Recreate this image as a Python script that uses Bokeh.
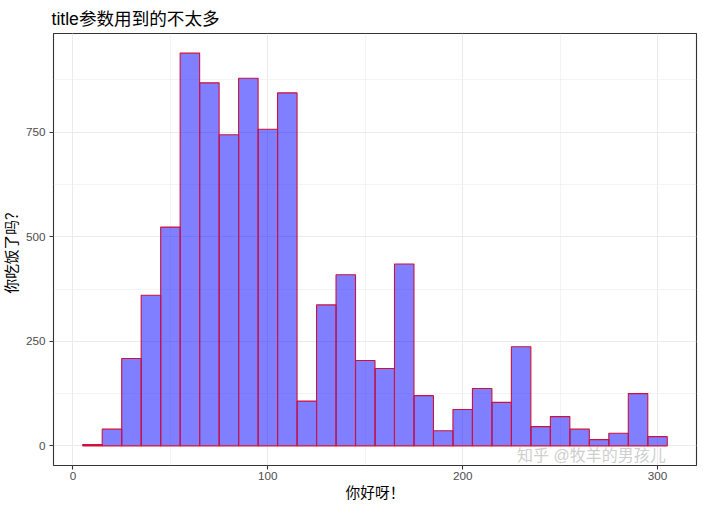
from bokeh.plotting import figure
from bokeh.models import FixedTicker, Label, Range1d
from bokeh.embed import file_html
from bokeh.resources import INLINE

# ---- data ----
bin_left = [5, 15, 25, 35, 45, 55, 65, 75, 85, 95, 105, 115, 125, 135, 145,
            155, 165, 175, 185, 195, 205, 215, 225, 235, 245, 255, 265, 275, 285, 295]
bin_right = [15, 25, 35, 45, 55, 65, 75, 85, 95, 105, 115, 125, 135, 145, 155,
             165, 175, 185, 195, 205, 215, 225, 235, 245, 255, 265, 275, 285, 295, 305]
counts = [3, 40, 209, 360, 523, 939, 868, 744, 879, 757, 844, 107, 337, 409, 204,
          185, 435, 120, 36, 87, 137, 104, 237, 46, 70, 40, 15, 30, 125, 22]
x_major = [0, 100, 200, 300]
x_minor = [50, 150, 250]
y_major = [0, 250, 500, 750]
y_minor = [125, 375, 625, 875]
title_text = "title参数用到的不太多"
x_label = "你好呀！"
y_label = "你吃饭了吗？"
watermark = "知乎 @牧羊的男孩儿"

LATIN_CJK = "Liberation Sans, Noto Sans CJK SC"

xmin, xmax = min(bin_left), max(bin_right)
xpad = (xmax - xmin) * 0.05
ymax = max(counts)
ypad = ymax * 0.05

p = figure(width=700, height=510, output_backend="svg", toolbar_location=None,
           x_range=Range1d(xmin - xpad, xmax + xpad),
           y_range=Range1d(-ypad, ymax + ypad),
           min_border_left=53, min_border_right=4, min_border_top=33,
           min_border_bottom=45)

p.quad(left=bin_left, right=bin_right, bottom=0, top=counts,
       fill_color="blue", fill_alpha=0.5, line_color="#D0103A", line_width=1.1)

# title
p.title.text = title_text
p.title.text_font = LATIN_CJK
p.title.text_font_size = "17.6px"
p.title.text_font_style = "normal"
p.title.text_color = "black"
p.title.offset = -2
p.title.standoff = 10

# panel border, background
p.outline_line_color = "#333333"
p.outline_line_width = 1.1
p.background_fill_color = "white"
p.border_fill_color = "white"

# ticks
p.xaxis.ticker = FixedTicker(ticks=x_major, minor_ticks=x_minor)
p.yaxis.ticker = FixedTicker(ticks=y_major, minor_ticks=y_minor)

for ax in (p.xaxis[0], p.yaxis[0]):
    ax.axis_line_color = None
    ax.major_tick_line_color = "#333333"
    ax.major_tick_line_width = 1.1
    ax.major_tick_out = 4
    ax.major_tick_in = 0
    ax.minor_tick_line_color = None
    ax.major_label_text_color = "#4D4D4D"
    ax.major_label_text_font = "Liberation Sans"
    ax.major_label_text_font_size = "11.7px"
    ax.axis_label_text_font = LATIN_CJK
    ax.axis_label_text_font_size = "14.7px"
    ax.axis_label_text_font_style = "normal"
    ax.axis_label_text_color = "black"

p.xaxis.major_label_standoff = 2
p.xaxis.axis_label_standoff = 2
p.yaxis.major_label_standoff = 4
p.yaxis.axis_label_standoff = 3

p.xaxis.axis_label = x_label
p.yaxis.axis_label = y_label

# grid
for g in (p.xgrid[0], p.ygrid[0]):
    g.grid_line_color = "#EBEBEB"
    g.grid_line_width = 1.1
    g.minor_grid_line_color = "#EBEBEB"
    g.minor_grid_line_width = 0.55
p.xgrid.ticker = p.xaxis[0].ticker
p.ygrid.ticker = p.yaxis[0].ticker

# watermark (kept inside the panel's lower padding so it is not clipped)
p.add_layout(Label(x=266, y=-ypad * 0.5, text=watermark, text_font=LATIN_CJK,
                   text_font_size="16px", text_color="#C8C8C8", text_alpha=0.9,
                   text_align="center", text_baseline="middle"))

open("out.html", "w").write(file_html(p, INLINE))
